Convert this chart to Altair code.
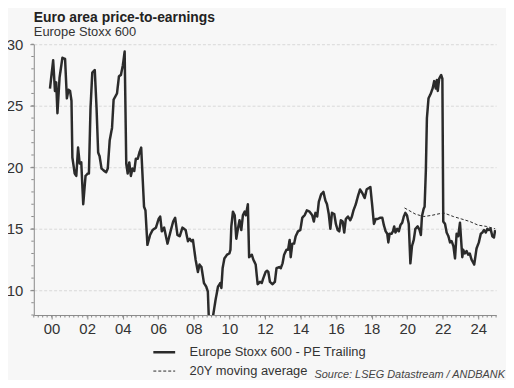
import altair as alt
import pandas as pd

FONT = "Liberation Sans"

title_text = "Euro area price-to-earnings"
subtitle_text = "Europe Stoxx 600"
source_text = "Source: LSEG Datastream / ANDBANK"
series_names = ["Europe Stoxx 600 - PE Trailing", "20Y moving average"]

pe_dates = [
    1999.91, 2000.09, 2000.19, 2000.26, 2000.33, 2000.45, 2000.61, 2000.76, 2000.86, 2000.95,
    2001.04, 2001.12, 2001.17, 2001.30, 2001.39, 2001.49, 2001.58, 2001.67, 2001.78, 2001.91,
    2002.04, 2002.10, 2002.19, 2002.29, 2002.43, 2002.53, 2002.62, 2002.70, 2002.81, 2002.97,
    2003.07, 2003.16, 2003.27, 2003.40, 2003.49, 2003.68, 2003.79, 2003.90, 2004.01, 2004.11,
    2004.20, 2004.28, 2004.37, 2004.46, 2004.55, 2004.65, 2004.74, 2004.85, 2004.94, 2005.04,
    2005.13, 2005.20, 2005.28, 2005.39, 2005.54, 2005.68, 2005.87, 2006.02, 2006.11, 2006.20,
    2006.33, 2006.52, 2006.71, 2006.84, 2006.95, 2007.08, 2007.21, 2007.36, 2007.54, 2007.67,
    2007.77, 2007.86, 2007.95, 2008.10, 2008.23, 2008.32, 2008.43, 2008.57, 2008.70, 2008.79,
    2008.84, 2008.95, 2009.03, 2009.09, 2009.22, 2009.36, 2009.49, 2009.55, 2009.62, 2009.72,
    2009.87, 2010.00, 2010.06, 2010.11, 2010.20, 2010.30, 2010.39, 2010.48, 2010.57, 2010.67,
    2010.76, 2010.86, 2010.93, 2011.04, 2011.11, 2011.26, 2011.35, 2011.48, 2011.59, 2011.72,
    2011.82, 2011.91, 2012.04, 2012.12, 2012.19, 2012.28, 2012.43, 2012.56, 2012.65, 2012.80,
    2012.89, 2012.99, 2013.08, 2013.21, 2013.30, 2013.39, 2013.45, 2013.54, 2013.64, 2013.73,
    2013.86, 2013.99, 2014.10, 2014.23, 2014.36, 2014.51, 2014.66, 2014.75, 2014.84, 2014.94,
    2015.03, 2015.16, 2015.29, 2015.40, 2015.49, 2015.59, 2015.68, 2015.77, 2015.90, 2015.99,
    2016.09, 2016.18, 2016.27, 2016.37, 2016.46, 2016.55, 2016.67, 2016.80, 2016.89, 2016.98,
    2017.11, 2017.24, 2017.35, 2017.48, 2017.61, 2017.72, 2017.82, 2017.93, 2018.04, 2018.13,
    2018.23, 2018.34, 2018.47, 2018.60, 2018.69, 2018.79, 2018.88, 2018.94, 2019.01, 2019.12,
    2019.20, 2019.27, 2019.34, 2019.44, 2019.53, 2019.62, 2019.72, 2019.81, 2019.90, 2019.99,
    2020.09, 2020.18, 2020.27, 2020.37, 2020.46, 2020.59, 2020.70, 2020.77, 2020.83, 2020.92,
    2020.98, 2021.05, 2021.11, 2021.20, 2021.33, 2021.43, 2021.52, 2021.61, 2021.67, 2021.72,
    2021.80, 2021.91, 2021.98, 2022.03, 2022.13, 2022.22, 2022.32, 2022.41, 2022.50, 2022.60,
    2022.69, 2022.78, 2022.87, 2022.97, 2023.02, 2023.10, 2023.15, 2023.24, 2023.34, 2023.43,
    2023.52, 2023.62, 2023.77, 2023.90, 2024.03, 2024.14, 2024.23, 2024.32, 2024.42, 2024.51,
    2024.60, 2024.69, 2024.79, 2024.88, 2024.95,
]
pe_values = [
    26.4, 28.7, 26.2, 26.9, 24.4, 27.3, 28.9, 28.8, 25.6, 26.3,
    26.2, 25.4, 20.8, 19.5, 19.3, 21.6, 20.3, 20.4, 17.0, 19.3,
    19.5, 19.5, 24.8, 27.7, 27.9, 24.8, 21.2, 20.9, 19.9, 19.7,
    19.6, 19.9, 22.2, 23.2, 25.5, 26.0, 27.4, 27.5, 28.3, 29.4,
    20.3, 19.5, 20.4, 19.3, 19.9, 19.7, 20.7, 20.7, 21.2, 21.6,
    18.9, 16.8, 16.5, 13.7, 14.5, 14.9, 15.1, 15.8, 16.0, 14.8,
    15.1, 13.8, 14.9, 15.6, 15.9, 14.5, 14.4, 15.1, 14.9, 14.0,
    14.2, 14.0, 14.1, 12.5, 11.5, 12.1, 11.9, 10.6, 10.3, 9.9,
    7.9, 7.2, 7.4, 8.0, 9.2, 10.3, 10.6, 10.2, 11.8, 12.6,
    12.9, 13.0, 13.3, 15.2, 16.4, 16.1, 14.2, 15.0, 15.7, 14.9,
    16.1, 16.4, 16.1, 17.0, 12.7, 12.9, 12.5, 12.1, 10.5, 10.7,
    10.6, 11.0, 11.5, 11.6, 11.5, 10.7, 10.5, 10.7, 11.8, 11.9,
    11.8, 12.2, 12.9, 13.3, 13.3, 14.1, 12.7, 13.8, 13.8, 14.4,
    14.8, 14.9, 15.9, 16.1, 16.5, 16.4, 16.1, 15.6, 16.3, 16.0,
    17.2, 17.8, 18.0, 17.3, 17.0, 16.2, 15.0, 16.3, 16.2, 15.4,
    14.9, 14.8, 15.7, 15.6, 14.7, 15.8, 16.0, 15.7, 16.0, 16.5,
    17.0, 17.7, 18.2, 17.9, 17.5, 18.2, 18.3, 18.4, 16.8, 15.4,
    15.8, 15.8, 15.9, 15.9, 15.3, 14.8, 14.6, 13.9, 14.6, 14.6,
    14.8, 15.2, 14.7, 15.0, 14.8, 15.3, 15.5, 16.0, 16.3, 16.1,
    15.4, 12.2, 13.6, 14.1, 15.0, 15.2, 14.9, 14.5, 16.0, 16.6,
    16.8, 19.7, 24.0, 25.6, 26.0, 26.4, 27.0, 26.4, 27.1, 26.2,
    27.2, 27.5, 27.2, 15.6, 15.4, 14.7, 14.4, 13.9, 14.0, 13.6,
    12.6, 14.6, 14.4, 15.5, 14.4, 12.7, 13.3, 13.0, 13.2, 12.9,
    13.0, 12.5, 12.1, 13.4, 13.9, 14.6, 14.7, 14.9, 14.7, 15.0,
    14.9, 15.0, 14.4, 14.3, 14.9,
]
ma_dates = [2019.85, 2020.46, 2020.93, 2021.39, 2022.04, 2022.60, 2023.06, 2023.52, 2023.99, 2024.45, 2024.95]
ma_values = [16.7, 16.2, 16.0, 16.1, 16.3, 16.0, 15.8, 15.6, 15.3, 15.2, 15.0]

x_major = list(range(2000, 2025, 2))
y_major = [10, 15, 20, 25, 30]
x_minor = [1999 + q / 4 for q in range(0, 26 * 4 + 1)]
y_minor = list(range(8, 31))

W, H = 466, 273
XDOM = [1999, 2025]
YDOM = [8, 30]
AXIS_COLOR = "#8a8a8a"
TEXT_COLOR = "#333333"
LINE_COLOR = "#2b2b2b"

df = pd.DataFrame({
    "date": pe_dates + ma_dates,
    "value": pe_values + ma_values,
    "series": [series_names[0]] * len(pe_dates) + [series_names[1]] * len(ma_dates),
})

xs = alt.Scale(domain=XDOM, nice=False, zero=False)
ys = alt.Scale(domain=YDOM, nice=False, zero=False)

x_axis = alt.Axis(
    values=x_major, format="d", labelExpr="substring(datum.label, 2, 4)",
    title=None, grid=False, tickSize=4, labelPadding=3, labelFlush=False,
)
y_axis = alt.Axis(
    values=y_major, title=None, grid=True, gridDash=[3, 2], gridColor="#d9d9d9",
    tickSize=4, labelPadding=7,
)

lines = alt.Chart(df).mark_line(clip=True, strokeJoin="round").encode(
    x=alt.X("date:Q", scale=xs, axis=x_axis),
    y=alt.Y("value:Q", scale=ys, axis=y_axis),
    color=alt.Color("series:N", title=None,
                    scale=alt.Scale(domain=series_names, range=[LINE_COLOR, LINE_COLOR])),
    strokeDash=alt.StrokeDash("series:N", title=None,
                              scale=alt.Scale(domain=series_names, range=[[1, 0], [3, 2]])),
    strokeWidth=alt.StrokeWidth("series:N", title=None,
                                scale=alt.Scale(domain=series_names, range=[2.5, 1.0])),
)

xminor = alt.Chart(pd.DataFrame({"date": x_minor})).mark_rule(color=AXIS_COLOR, strokeWidth=1).encode(
    x=alt.X("date:Q", scale=xs, axis=x_axis),
    y=alt.value(H), y2=alt.value(H + 2.5),
)
yminor = alt.Chart(pd.DataFrame({"value": y_minor})).mark_rule(color=AXIS_COLOR, strokeWidth=1).encode(
    y=alt.Y("value:Q", scale=ys, axis=y_axis),
    x=alt.value(0), x2=alt.value(-2.5),
)

def text_layer(s, x, y, align="left", **kw):
    return alt.Chart(pd.DataFrame({"t": [s]})).mark_text(
        align=align, baseline="alphabetic", font=FONT, **kw
    ).encode(text="t:N", x=alt.value(x), y=alt.value(y))

title_l = text_layer(title_text, 0, -22, fontSize=14, fontWeight="bold", color="#222222")
subtitle_l = text_layer(subtitle_text, 0, -8, fontSize=13, color=TEXT_COLOR)
source_l = text_layer(source_text, W + 9, 336, align="right", fontSize=11, fontStyle="italic", color="#444444")

chart = alt.layer(yminor, xminor, lines, title_l, subtitle_l, source_l).properties(
    width=W, height=H,
    padding={"left": 26, "top": 35, "right": 10, "bottom": 64},
    autosize=alt.AutoSizeParams(type="none"),
    background="#f7f7f7",
).configure_view(stroke=None).configure_axis(
    domainColor=AXIS_COLOR, tickColor=AXIS_COLOR, labelColor=TEXT_COLOR,
    labelFont=FONT, labelFontSize=15, domainWidth=1, tickWidth=1,
).configure_legend(
    orient="none", legendX=119, legendY=298, symbolType="stroke", symbolSize=484,
    labelFont=FONT, labelFontSize=13, labelColor=TEXT_COLOR, labelOffset=13,
    rowPadding=-9, padding=0, symbolStrokeColor=LINE_COLOR, labelLimit=400,
)

chart.save("out.html", embed_options={"renderer": "svg", "actions": False})
